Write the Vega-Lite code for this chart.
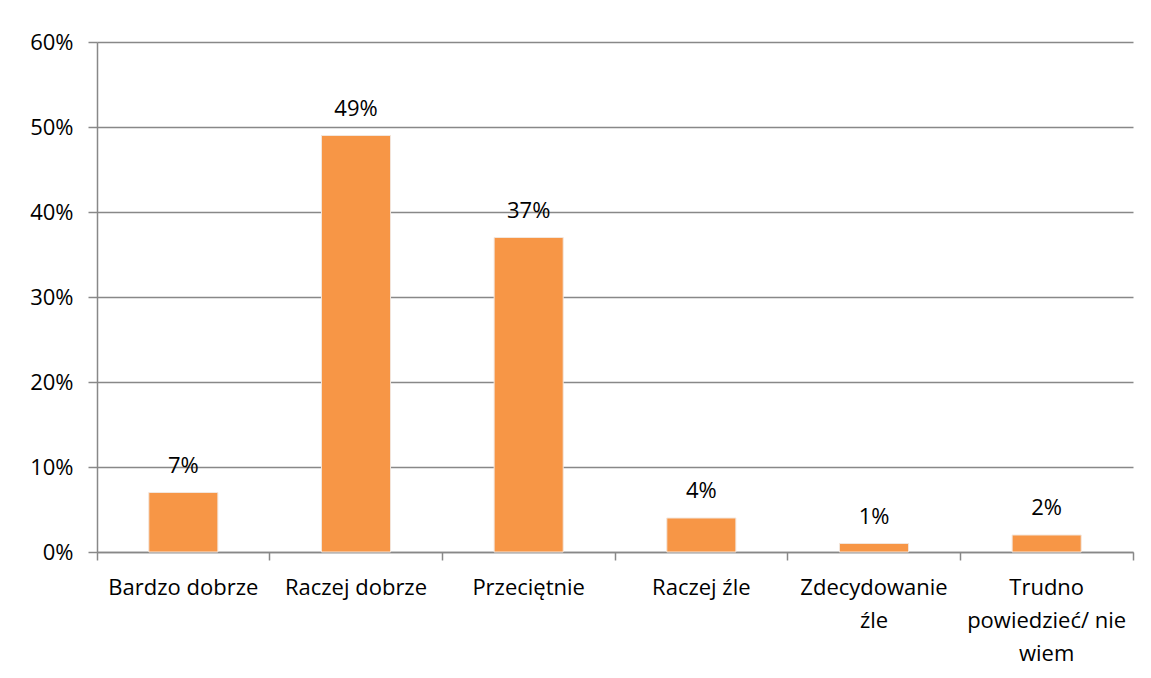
{
  "$schema": "https://vega.github.io/schema/vega-lite/v6.json",
  "autosize": {"type": "none"},
  "width": 1036,
  "height": 510,
  "padding": {"left": 97, "top": 42, "right": 18, "bottom": 126},
  "background": "white",
  "config": {
    "font": "Open Sans",
    "view": {"stroke": null},
    "axis": {"labelFont": "Open Sans", "labelColor": "#000000"}
  },
  "data": {
    "values": [
      {"kategoria": "Bardzo dobrze", "wartosc": 0.07, "etykieta": "7%"},
      {"kategoria": "Raczej dobrze", "wartosc": 0.49, "etykieta": "49%"},
      {"kategoria": "Przeciętnie", "wartosc": 0.37, "etykieta": "37%"},
      {"kategoria": "Raczej źle", "wartosc": 0.04, "etykieta": "4%"},
      {"kategoria": "Zdecydowanie źle", "wartosc": 0.01, "etykieta": "1%"},
      {"kategoria": "Trudno powiedzieć/ nie wiem", "wartosc": 0.02, "etykieta": "2%"}
    ]
  },
  "encoding": {
    "x": {
      "field": "kategoria",
      "type": "nominal",
      "sort": null,
      "scale": {"paddingInner": 0, "paddingOuter": 0},
      "axis": {
        "title": null,
        "labelAngle": 0,
        "labelFontSize": 22,
        "labelPadding": 27,
        "labelLineHeight": 33,
        "labelBaseline": "middle",
        "labelExpr": "datum.value == 'Zdecydowanie źle' ? ['Zdecydowanie', 'źle'] : datum.value == 'Trudno powiedzieć/ nie wiem' ? ['Trudno', 'powiedzieć/ nie', 'wiem'] : datum.value",
        "bandPosition": 1,
        "tickExtra": true,
        "tickSize": 8,
        "tickColor": "#888888",
        "domainColor": "#888888",
        "domainWidth": 1.5,
        "tickWidth": 1.5
      }
    },
    "y": {
      "field": "wartosc",
      "type": "quantitative",
      "scale": {"domain": [0, 0.6], "nice": false},
      "axis": {
        "title": null,
        "format": ".0%",
        "values": [0, 0.1, 0.2, 0.3, 0.4, 0.5, 0.6],
        "labelFontSize": 22,
        "labelPadding": 15,
        "tickSize": 9,
        "tickColor": "#888888",
        "tickWidth": 1.5,
        "domainColor": "#888888",
        "domainWidth": 1.5,
        "grid": true,
        "gridColor": "#888888",
        "gridWidth": 1.5
      }
    }
  },
  "layer": [
    {
      "mark": {"type": "bar", "color": "#F79646", "width": {"band": 0.4}, "stroke": "#f3e6dc", "strokeWidth": 1}
    },
    {
      "mark": {"type": "text", "fontSize": 22, "dy": -27, "color": "#000000", "font": "Open Sans"},
      "encoding": {"text": {"field": "etykieta"}}
    }
  ]
}
